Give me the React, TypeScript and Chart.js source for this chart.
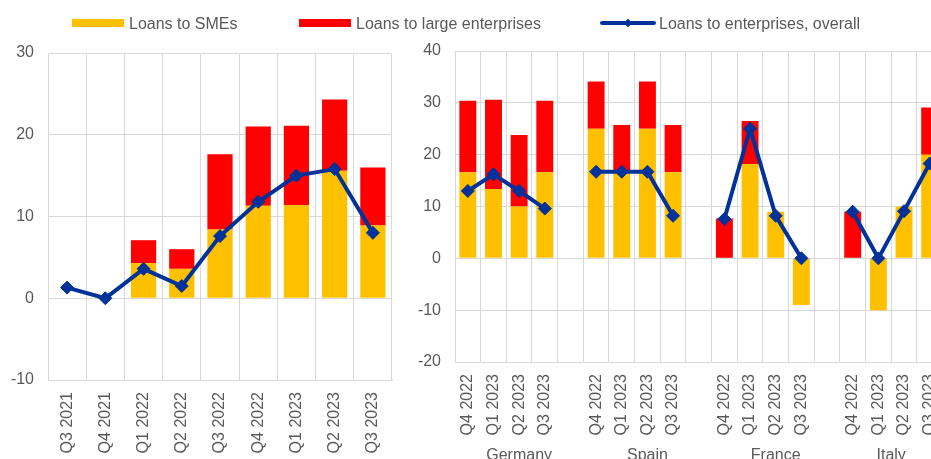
import React, { useEffect, useRef } from "react";
import { Chart, registerables } from "chart.js";
Chart.register(...registerables);

// ---------- data ----------
const euroLabels = ["Q3 2021", "Q4 2021", "Q1 2022", "Q2 2022", "Q3 2022", "Q4 2022", "Q1 2023", "Q2 2023", "Q3 2023"];
const euroSME = [null, null, 4.3, 3.6, 8.4, 11.3, 11.4, 15.6, 8.9];
const euroLarge = [null, null, 2.8, 2.4, 9.2, 9.7, 9.7, 8.7, 7.1];
const euroOverall = [1.3, 0, 3.6, 1.5, 7.6, 11.8, 15.0, 15.8, 8.0];

const countryNames = ["Germany", "Spain", "France", "Italy"];
const countryLabels = [
  "Q4 2022", "Q1 2023", "Q2 2023", "Q3 2023", "",
  "Q4 2022", "Q1 2023", "Q2 2023", "Q3 2023", "",
  "Q4 2022", "Q1 2023", "Q2 2023", "Q3 2023", "",
  "Q4 2022", "Q1 2023", "Q2 2023", "Q3 2023",
];
const countrySME = [16.6, 13.4, 10.0, 16.6, null, 25.0, 16.7, 25.0, 16.6, null, 0, 18.2, 9.0, -9.0, null, 0, -10.0, 10.0, 20.0];
const countryLarge = [13.8, 17.2, 13.8, 13.8, null, 9.1, 9.0, 9.1, 9.1, null, 7.7, 8.3, 0, 0, null, 9.0, 0, 0, 9.1];
const countryOverall = [13.0, 16.2, 13.0, 9.6, null, 16.7, 16.7, 16.7, 8.2, null, 7.6, 25.0, 8.2, 0, null, 9.0, 0, 9.1, 18.3];

const legendLabels = ["Loans to SMEs", "Loans to large enterprises", "Loans to enterprises, overall"];

// ---------- style ----------
const FONT = "'Liberation Sans', Arial, Helvetica, sans-serif";
const TEXT = "#595959";
const GRID = "#d9d9d9";
const YELLOW = "#FFC000";
const RED = "#FF0000";
const BLUE = "#003299";

function datasets(sme: (number | null)[], large: (number | null)[], overall: (number | null)[]) {
  return [
    {
      type: "line" as const,
      label: legendLabels[2],
      data: overall,
      borderColor: BLUE,
      backgroundColor: BLUE,
      borderWidth: 4,
      pointStyle: "rectRot" as const,
      pointRadius: 6.5,
      pointBorderWidth: 1,
      pointBackgroundColor: BLUE,
      pointBorderColor: BLUE,
      tension: 0,
      spanGaps: false,
      order: 0,
    },
    {
      type: "bar" as const,
      label: legendLabels[0],
      data: sme,
      backgroundColor: YELLOW,
      stack: "s",
      barPercentage: 0.66,
      categoryPercentage: 1.0,
      order: 1,
    },
    {
      type: "bar" as const,
      label: legendLabels[1],
      data: large,
      backgroundColor: RED,
      stack: "s",
      barPercentage: 0.66,
      categoryPercentage: 1.0,
      order: 1,
    },
  ];
}

function makeOptions(min: number, max: number, yWidth: number, xHeight: number, padTop: number, padRight: number) {
  return {
    responsive: false,
    animation: false as const,
    devicePixelRatio: 1,
    layout: { padding: { top: padTop, right: padRight, left: 0, bottom: 0 } },
    plugins: { legend: { display: false }, tooltip: { enabled: false } },
    scales: {
      x: {
        stacked: true,
        grid: { color: GRID, lineWidth: 1, offset: true, drawTicks: false },
        border: { color: GRID },
        ticks: {
          color: TEXT,
          font: { family: FONT, size: 16 },
          maxRotation: 90,
          minRotation: 90,
          padding: 12,
          autoSkip: false,
        },
        afterFit: (s: any) => {
          s.height = xHeight;
          s.paddingLeft = 0;
          s.paddingRight = 0;
        },
      },
      y: {
        stacked: true,
        min,
        max,
        grid: { color: GRID, lineWidth: 1, drawTicks: false },
        border: { color: GRID },
        ticks: {
          stepSize: 10,
          color: TEXT,
          font: { family: FONT, size: 16 },
          padding: 14,
        },
        afterFit: (s: any) => {
          s.width = yWidth;
          s.paddingTop = 0;
          s.paddingBottom = 0;
        },
      },
    },
  };
}

const groupLabelPlugin = {
  id: "groupLabels",
  afterDraw(chart: any) {
    const xs = chart.scales.x;
    const labels: string[] = chart.data.labels;
    const ctx = chart.ctx;
    ctx.save();
    ctx.font = `16px ${FONT}`;
    ctx.fillStyle = TEXT;
    ctx.textAlign = "center";
    ctx.textBaseline = "alphabetic";
    // each group spans its quarters plus the following blank category
    let start = 0;
    let g = 0;
    for (let i = 0; i <= labels.length; i++) {
      const atEnd = i === labels.length;
      if (atEnd || labels[i] === "") {
        const end = atEnd ? labels.length - 1 : i;
        const x = (xs.getPixelForValue(start) + xs.getPixelForValue(end)) / 2;
        if (g < countryNames.length) ctx.fillText(countryNames[g], x, 460);
        g++;
        start = i + 1;
      }
    }
    ctx.restore();
  },
};

function LegendItem({ left, textLeft, color, kind, text }: any) {
  return (
    <>
      {kind === "box" ? (
        <div style={{ position: "absolute", left, top: 19, width: 52, height: 8, background: color }} />
      ) : (
        <>
          <div style={{ position: "absolute", left, top: 21, width: 56, height: 4, background: color, borderRadius: 2 }} />
          <div
            style={{
              position: "absolute",
              left: left + 25,
              top: 20,
              width: 6,
              height: 6,
              background: color,
              transform: "rotate(45deg)",
            }}
          />
        </>
      )}
      <div
        style={{
          position: "absolute",
          left: textLeft,
          top: 15,
          fontFamily: FONT,
          fontSize: 16,
          lineHeight: "18px",
          color: TEXT,
          whiteSpace: "nowrap",
        }}
      >
        {text}
      </div>
    </>
  );
}

export default function App() {
  const leftRef = useRef<HTMLCanvasElement>(null);
  const rightRef = useRef<HTMLCanvasElement>(null);

  useEffect(() => {
    const left = new Chart(leftRef.current!, {
      type: "bar",
      data: { labels: euroLabels, datasets: datasets(euroSME, euroLarge, euroOverall) as any },
      options: makeOptions(-10, 30, 48, 79, 53, 8) as any,
    });
    const right = new Chart(rightRef.current!, {
      type: "bar",
      data: { labels: countryLabels, datasets: datasets(countrySME, countryLarge, countryOverall) as any },
      options: makeOptions(-20, 40, 55, 118, 51, 4) as any,
      plugins: [groupLabelPlugin],
    });
    return () => {
      left.destroy();
      right.destroy();
    };
  }, []);

  return (
    <div
      style={{
        position: "fixed",
        left: 0,
        top: 0,
        width: "100vw",
        height: "100vh",
        overflow: "hidden",
        background: "#ffffff",
      }}
    >
      <canvas
        ref={leftRef}
        width={400}
        height={459}
        style={{ position: "absolute", left: 0, top: 0, width: 400, height: 459 }}
      />
      <canvas
        ref={rightRef}
        width={550}
        height={480}
        style={{ position: "absolute", left: 400, top: 0, width: 550, height: 480 }}
      />
      <LegendItem left={72} textLeft={129} color={YELLOW} kind="box" text={legendLabels[0]} />
      <LegendItem left={299} textLeft={356} color={RED} kind="box" text={legendLabels[1]} />
      <LegendItem left={600} textLeft={659} color={BLUE} kind="line" text={legendLabels[2]} />
    </div>
  );
}
